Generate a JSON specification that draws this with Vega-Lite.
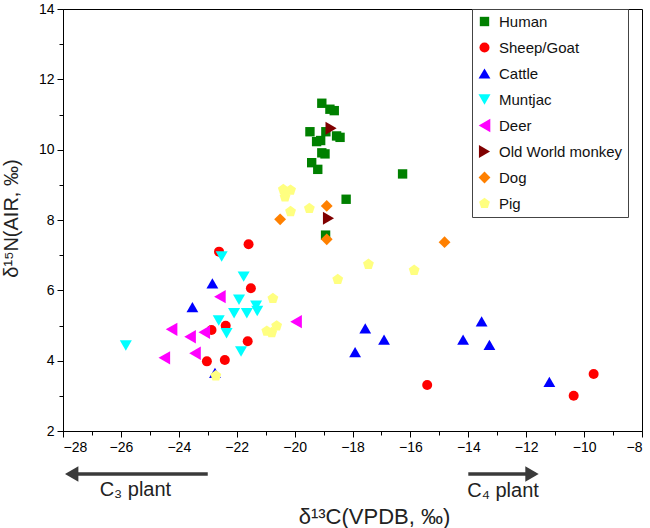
{
  "$schema": "https://vega.github.io/schema/vega-lite/v6.json",
  "width": 579,
  "height": 422,
  "autosize": {"type": "none"},
  "padding": {"left": 63, "top": 9, "right": 8, "bottom": 97},
  "background": "white",
  "config": {
    "view": {"stroke": "black", "strokeWidth": 1},
    "font": "Liberation Sans",
    "axis": {"grid": false, "domainColor": "black", "tickColor": "black", "labelColor": "black", "titleColor": "#222", "labelFont": "Liberation Sans", "titleFont": "Liberation Sans", "titleFontWeight": "normal"}
  },
  "datasets": {
    "pts": [
      {"g": "Human", "x": -19.06, "y": 11.32},
      {"g": "Human", "x": -18.78, "y": 11.15},
      {"g": "Human", "x": -18.63, "y": 11.11},
      {"g": "Human", "x": -19.47, "y": 10.51},
      {"g": "Human", "x": -18.92, "y": 10.51},
      {"g": "Human", "x": -18.55, "y": 10.39},
      {"g": "Human", "x": -18.43, "y": 10.35},
      {"g": "Human", "x": -19.24, "y": 10.23},
      {"g": "Human", "x": -19.1, "y": 10.26},
      {"g": "Human", "x": -19.06, "y": 9.91},
      {"g": "Human", "x": -18.95, "y": 9.88},
      {"g": "Human", "x": -19.41, "y": 9.63},
      {"g": "Human", "x": -19.2, "y": 9.44},
      {"g": "Human", "x": -16.27, "y": 9.31},
      {"g": "Human", "x": -18.22, "y": 8.59},
      {"g": "Human", "x": -18.93, "y": 7.57},
      {"g": "Sheep/Goat", "x": -21.59, "y": 7.31},
      {"g": "Sheep/Goat", "x": -22.61, "y": 7.1},
      {"g": "Sheep/Goat", "x": -21.51, "y": 6.06},
      {"g": "Sheep/Goat", "x": -22.87, "y": 4.87},
      {"g": "Sheep/Goat", "x": -22.38, "y": 4.99},
      {"g": "Sheep/Goat", "x": -21.62, "y": 4.55},
      {"g": "Sheep/Goat", "x": -23.03, "y": 3.98},
      {"g": "Sheep/Goat", "x": -22.41, "y": 4.02},
      {"g": "Sheep/Goat", "x": -15.42, "y": 3.31},
      {"g": "Sheep/Goat", "x": -10.36, "y": 3.0},
      {"g": "Sheep/Goat", "x": -9.67, "y": 3.62},
      {"g": "Cattle", "x": -22.84, "y": 6.2},
      {"g": "Cattle", "x": -23.53, "y": 5.52},
      {"g": "Cattle", "x": -22.75, "y": 3.65},
      {"g": "Cattle", "x": -17.56, "y": 4.92},
      {"g": "Cattle", "x": -16.91, "y": 4.6},
      {"g": "Cattle", "x": -17.91, "y": 4.24},
      {"g": "Cattle", "x": -13.54, "y": 5.12},
      {"g": "Cattle", "x": -14.18, "y": 4.6},
      {"g": "Cattle", "x": -13.27, "y": 4.45},
      {"g": "Cattle", "x": -11.2, "y": 3.4},
      {"g": "Muntjac", "x": -22.52, "y": 6.96},
      {"g": "Muntjac", "x": -21.76, "y": 6.39},
      {"g": "Muntjac", "x": -21.92, "y": 5.73},
      {"g": "Muntjac", "x": -21.33, "y": 5.56},
      {"g": "Muntjac", "x": -21.29, "y": 5.41},
      {"g": "Muntjac", "x": -22.09, "y": 5.35},
      {"g": "Muntjac", "x": -21.65, "y": 5.35},
      {"g": "Muntjac", "x": -22.62, "y": 5.14},
      {"g": "Muntjac", "x": -22.35, "y": 4.78},
      {"g": "Muntjac", "x": -21.85, "y": 4.26},
      {"g": "Muntjac", "x": -25.83, "y": 4.43},
      {"g": "Deer", "x": -22.58, "y": 5.82},
      {"g": "Deer", "x": -24.25, "y": 4.89},
      {"g": "Deer", "x": -23.61, "y": 4.68},
      {"g": "Deer", "x": -23.12, "y": 4.81},
      {"g": "Deer", "x": -23.44, "y": 4.21},
      {"g": "Deer", "x": -24.5, "y": 4.08},
      {"g": "Deer", "x": -19.95, "y": 5.11},
      {"g": "Old World monkey", "x": -18.74, "y": 10.61},
      {"g": "Old World monkey", "x": -18.83, "y": 8.05},
      {"g": "Dog", "x": -18.89, "y": 8.4},
      {"g": "Dog", "x": -20.5, "y": 8.02},
      {"g": "Dog", "x": -18.89, "y": 7.45},
      {"g": "Dog", "x": -14.82, "y": 7.37},
      {"g": "Pig", "x": -20.39, "y": 8.87},
      {"g": "Pig", "x": -20.14, "y": 8.85},
      {"g": "Pig", "x": -20.33, "y": 8.66},
      {"g": "Pig", "x": -20.14, "y": 8.24},
      {"g": "Pig", "x": -19.49, "y": 8.33},
      {"g": "Pig", "x": -18.51, "y": 6.31},
      {"g": "Pig", "x": -17.45, "y": 6.74},
      {"g": "Pig", "x": -15.87, "y": 6.57},
      {"g": "Pig", "x": -20.75, "y": 5.77},
      {"g": "Pig", "x": -20.62, "y": 4.99},
      {"g": "Pig", "x": -20.96, "y": 4.84},
      {"g": "Pig", "x": -20.79, "y": 4.8},
      {"g": "Pig", "x": -22.72, "y": 3.57}
    ],
    "shafts": [
      {"x1": -23.0, "x2": -27.5, "y": 0.78},
      {"x1": -14.0, "x2": -12.0, "y": 0.78}
    ],
    "heads": [
      {"dir": "left", "x": -27.7, "y": 0.78},
      {"dir": "right", "x": -11.8, "y": 0.78}
    ],
    "labels": [
      {"t": "C₃ plant", "x": -25.5, "y": 0.32},
      {"t": "C₄ plant", "x": -12.8, "y": 0.3}
    ]
  },
  "layer": [
    {
      "data": {"name": "shafts"},
      "mark": {"type": "rule", "color": "#3a3a3a", "strokeWidth": 3.5},
      "encoding": {
        "x": {"field": "x1", "type": "quantitative", "scale": {"domain": [-28, -8], "nice": false, "zero": false},
          "axis": {"values": [-28,-27,-26,-25,-24,-23,-22,-21,-20,-19,-18,-17,-16,-15,-14,-13,-12,-11,-10,-9,-8], "labels": false, "tickSize": 4, "domain": false, "title": null, "orient": "bottom"}},
        "x2": {"field": "x2"},
        "y": {"field": "y", "type": "quantitative", "scale": {"domain": [2, 14], "nice": false, "zero": false},
          "axis": {"values": [2,3,4,5,6,7,8,9,10,11,12,13,14], "labels": false, "tickSize": 4, "domain": false, "title": null, "orient": "left"}}
      }
    },
    {
      "data": {"name": "heads"},
      "transform": [{"filter": "datum.dir === 'left'"}],
      "mark": {"type": "point", "filled": true, "opacity": 1, "color": "#3a3a3a", "size": 240, "shape": "triangle-left"},
      "encoding": {
        "x": {"field": "x", "type": "quantitative", "axis": null},
        "y": {"field": "y", "type": "quantitative", "axis": null}
      }
    },
    {
      "data": {"name": "heads"},
      "transform": [{"filter": "datum.dir === 'right'"}],
      "mark": {"type": "point", "filled": true, "opacity": 1, "color": "#3a3a3a", "size": 240, "shape": "triangle-right"},
      "encoding": {
        "x": {"field": "x", "type": "quantitative", "axis": null},
        "y": {"field": "y", "type": "quantitative", "axis": null}
      }
    },
    {
      "data": {"name": "labels"},
      "mark": {"type": "text", "fontSize": 20, "color": "#222", "font": "Liberation Sans"},
      "encoding": {
        "x": {"field": "x", "type": "quantitative", "axis": null},
        "y": {"field": "y", "type": "quantitative", "axis": null},
        "text": {"field": "t"}
      }
    },
    {
      "data": {"name": "pts"},
      "mark": {"type": "point", "filled": true, "opacity": 1},
      "encoding": {
        "x": {"field": "x", "type": "quantitative",
          "axis": {"values": [-28,-26,-24,-22,-20,-18,-16,-14,-12,-10,-8], "tickSize": 6, "labelFontSize": 14, "labelPadding": 3, "title": "δ¹³C(VPDB, ‰)", "titleFontSize": 22, "titleX": 311, "titleY": 92, "titleBaseline": "alphabetic", "orient": "bottom"}},
        "y": {"field": "y", "type": "quantitative",
          "axis": {"values": [2,4,6,8,10,12,14], "tickSize": 6, "labelFontSize": 14, "labelPadding": 3, "title": "δ¹⁵N(AIR, ‰)", "titleFontSize": 20, "titleY": 209, "titleX": -42, "orient": "left"}},
        "size": {"field": "g", "type": "ordinal", "legend": null,
          "sort": ["Human", "Sheep/Goat", "Cattle", "Muntjac", "Deer", "Old World monkey", "Dog", "Pig"],
          "scale": {"type": "ordinal", "domain": ["Human", "Sheep/Goat", "Cattle", "Muntjac", "Deer", "Old World monkey", "Dog", "Pig"],
            "range": [88, 100, 140, 145, 180, 165, 140, 130]}},
        "color": {"field": "g", "type": "nominal",
          "scale": {"domain": ["Human", "Sheep/Goat", "Cattle", "Muntjac", "Deer", "Old World monkey", "Dog", "Pig"],
            "range": ["#008000", "#FF0000", "#0000FF", "#00FFFF", "#FF00FF", "#800000", "#FF8000", "#FFFF80"]},
          "legend": {"title": null, "orient": "none", "legendX": 409, "legendY": 0, "strokeColor": "#444", "fillColor": "white", "padding": 5, "labelFontSize": 15, "labelColor": "#111", "symbolSize": 130, "rowPadding": 10, "labelOffset": 7, "symbolOffset": 0,
            "encode": {"symbols": {"update": {"size": {"value": 130}}}, "labels": {"update": {"font": {"signal": "datum.label === 'Old World monkey' ? 'DejaVu Sans' : 'Liberation Sans'"}, "fill": {"signal": "datum.label === 'Old World monkey' ? '#333' : '#111'"}}}}}},
        "shape": {"field": "g", "type": "nominal",
          "scale": {"domain": ["Human", "Sheep/Goat", "Cattle", "Muntjac", "Deer", "Old World monkey", "Dog", "Pig"],
            "range": ["square", "circle", "triangle-up", "triangle-down", "triangle-left", "triangle-right", "diamond", "M0,-1L0.951,-0.309L0.588,0.809L-0.588,0.809L-0.951,-0.309Z"]}}
      }
    }
  ],
  "resolve": {"axis": {"x": "independent", "y": "independent"}}
}
